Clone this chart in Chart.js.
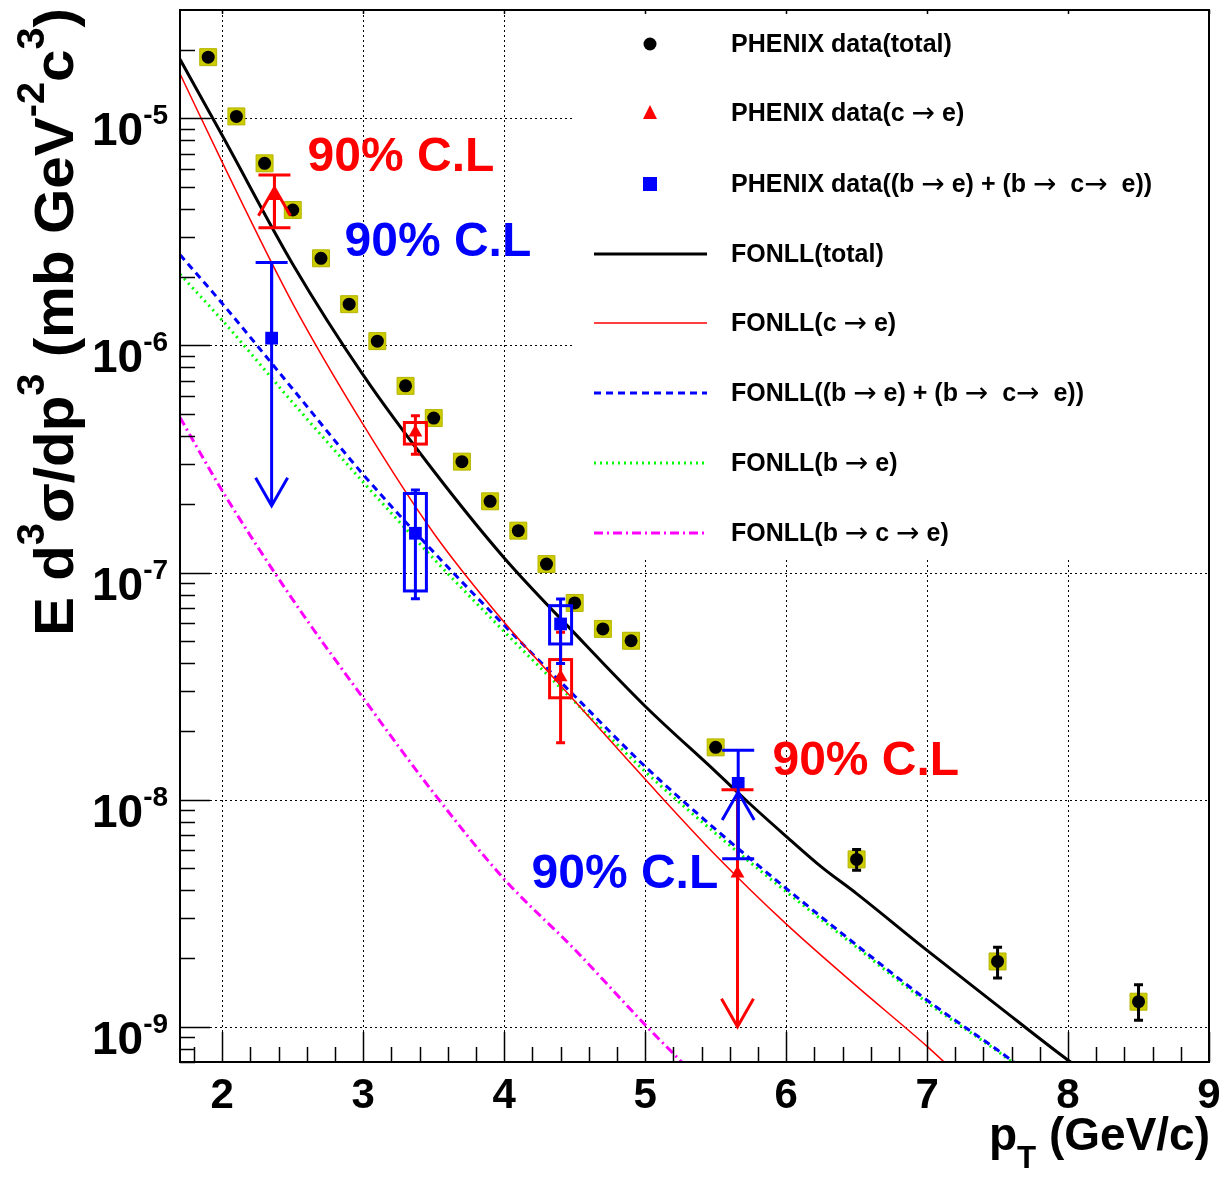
<!DOCTYPE html>
<html>
<head>
<meta charset="utf-8">
<title>Heavy-flavour electron spectrum vs FONLL</title>
<script src="https://cdn.jsdelivr.net/npm/chart.js@4.4.1/dist/chart.umd.min.js"></script>
<style>
  html, body { margin: 0; padding: 0; background: #fff; }
  #wrap { width: 1230px; height: 1177px; position: relative; }
</style>
</head>
<body>
<div id="wrap"><canvas id="spectrum"></canvas></div>
<script>
// PHENIX data (total), stat errors only where visible outside the marker
const totalPt  = [1.9, 2.1, 2.3, 2.5, 2.7, 2.9, 3.1, 3.3, 3.5, 3.7, 3.9, 4.1, 4.3, 4.5, 4.7, 4.9, 5.5, 6.5, 7.5, 8.5];
const totalVal = [1.86e-5, 1.02e-5, 6.34e-6, 3.95e-6, 2.42e-6, 1.52e-6, 1.045e-6, 6.64e-7, 4.79e-7, 3.08e-7,
                  2.06e-7, 1.53e-7, 1.09e-7, 7.35e-8, 5.65e-8, 5.01e-8, 1.70e-8, 5.46e-9, 1.94e-9, 1.29e-9];
const totalErrHi = [null, null, null, null, null, null, null, null, null, null, null, null, null, null, null, null, null, 6.04e-9, 2.24e-9, 1.53e-9];
const totalErrLo = [null, null, null, null, null, null, null, null, null, null, null, null, null, null, null, null, null, 4.89e-9, 1.64e-9, 1.07e-9];

// PHENIX data (c -> e)
const charmPt    = [2.37, 3.37, 4.40, 5.655];
const charmVal   = [4.55e-6, 4.14e-7, 3.46e-8, 4.73e-9];
const charmErrHi = [5.63e-6, 4.9e-7, 5.46e-8, 1.106e-8];
const charmErrLo = [3.3e-6, 3.32e-7, 1.78e-8, null];
const charmSysHi = [null, 4.58e-7, 4.14e-8, null];
const charmSysLo = [null, 3.68e-7, 2.81e-8, null];
const charmArrowFrom = [3.3e-6, null, null, 1.106e-8];
const charmArrowTo   = [4.95e-6, null, null, 1.0e-9];

// PHENIX data ((b -> e) + (b -> c -> e))
const bottomPt    = [2.35, 3.37, 4.40, 5.66];
const bottomVal   = [1.077e-6, 1.49e-7, 5.94e-8, 1.18e-8];
const bottomErrHi = [2.32e-6, 2.31e-7, 7.65e-8, 1.65e-8];
const bottomErrLo = [null, 7.68e-8, 3.98e-8, 5.5e-9];
const bottomSysHi = [null, 2.23e-7, 7.15e-8, null];
const bottomSysLo = [null, 8.3e-8, 4.85e-8, null];
const bottomArrowFrom = [2.32e-6, null, null, 5.5e-9];
const bottomArrowTo   = [1.97e-7, null, null, 1.08e-8];

// FONLL curves
const fonllTotalPt  = [1.7, 2.0, 2.5, 3.0, 3.5, 4.0, 4.5, 5.0, 5.5, 5.75, 6.0, 6.25, 6.5, 7.0, 7.5, 8.0, 8.1];
const fonllTotalVal = [1.82e-5, 8.4e-6, 2.28e-6, 7.4e-7, 2.8e-7, 1.16e-7, 5.4e-8, 2.58e-8, 1.33e-8, 9.5e-9,
                       6.9e-9, 5.06e-9, 3.86e-9, 2.17e-9, 1.24e-9, 7.13e-10, 6.45e-10];
const fonllCharmPt  = [1.7, 2.0, 2.5, 3.0, 3.5, 4.0, 4.5, 5.0, 5.5, 6.0, 6.5, 7.0, 7.2];
const fonllCharmVal = [1.57e-5, 6.4e-6, 1.53e-6, 4.48e-7, 1.49e-7, 6.04e-8, 2.72e-8, 1.23e-8, 5.7e-9, 2.84e-9, 1.51e-9, 8.2e-10, 6.3e-10];
const fonllBSumPt   = [1.7, 2.0, 2.5, 3.0, 3.5, 4.0, 4.5, 5.0, 5.5, 6.0, 6.5, 7.0, 7.5, 7.7];
const fonllBSumVal  = [2.51e-6, 1.53e-6, 6.43e-7, 2.7e-7, 1.23e-7, 5.86e-8, 2.86e-8, 1.4e-8, 7.4e-9, 4.07e-9, 2.29e-9, 1.31e-9, 7.9e-10, 6.4e-10];
const fonllBPt      = [1.7, 2.0, 2.5, 3.0, 3.5, 4.0, 4.5, 5.0, 5.5, 6.0, 6.5, 7.0, 7.5, 7.7];
const fonllBVal     = [2.06e-6, 1.29e-6, 5.6e-7, 2.5e-7, 1.15e-7, 5.5e-8, 2.7e-8, 1.33e-8, 7.1e-9, 3.94e-9, 2.24e-9, 1.28e-9, 7.8e-10, 6.3e-10];
const fonllBCPt     = [1.7, 2.0, 2.5, 3.0, 3.5, 4.0, 4.5, 5.0, 5.3];
const fonllBCVal    = [4.82e-7, 2.29e-7, 7.6e-8, 2.8e-8, 1.07e-8, 4.47e-9, 2.19e-9, 1.02e-9, 6.6e-10];

// axes
const xMin = 1.7, xMax = 9.0;
const yMin = 7e-10, yMax = 3e-5;
const xMajorTicks = [2, 3, 4, 5, 6, 7, 8, 9];
const yDecades = [-9, -8, -7, -6, -5];

// "90% C.L" labels: [pt, value at baseline, colour]
const clLabelPt  = [2.605, 2.867, 5.903, 4.194];
const clLabelVal = [5.87e-6, 2.48e-6, 1.28e-8, 4.07e-9];
const clLabelCol = ['#ff0000', '#0000ff', '#ff0000', '#0000ff'];

const legendLabels = [
    'PHENIX data(total)',
    'PHENIX data(c \u2192 e)',
    'PHENIX data((b \u2192 e) + (b \u2192  c\u2192  e))',
    'FONLL(total)',
    'FONLL(c \u2192 e)',
    'FONLL((b \u2192 e) + (b \u2192  c\u2192  e))',
    'FONLL(b \u2192 e)',
    'FONLL(b \u2192 c \u2192 e)',
];

const FONT = '"Liberation Sans", Arial, Helvetica, sans-serif';
const RED = '#ff0000', BLUE = '#0000ff', GREEN = '#00ff00', MAGENTA = '#ff00ff', OLIVE = '#cccc00';

const zip = (xs, ys) => xs.map((x, i) => ({ x, y: ys[i] }));

function richText(ctx, parts, x, y, size, draw) {
    let cx = x;
    parts.forEach(([t, mode]) => {
        const s = mode ? size * 0.68 : size;
        ctx.font = `bold ${s}px ${FONT}`;
        const dy = mode === 1 ? -size * 0.52 : (mode === -1 ? size * 0.4 : 0);
        if (draw) ctx.fillText(t, cx, y + dy);
        cx += ctx.measureText(t).width;
    });
    return cx - x;
}

// legend text: arrows come from a symbol-like font, thin and centred
function legendText(ctx, str, x, y) {
    let cx = x;
    str.split('\u2192').forEach((piece, i) => {
        if (i > 0) {
            ctx.font = `28px "DejaVu Sans", sans-serif`;
            ctx.fillText('\u2192', cx, y + 1);
            cx += ctx.measureText('\u2192').width;
        }
        ctx.font = `bold 25px ${FONT}`;
        ctx.fillText(piece, cx, y);
        cx += ctx.measureText(piece).width;
    });
}

function drawArrow(ctx, X, y0, y1) {
    const dir = y1 > y0 ? 1 : -1;
    ctx.beginPath();
    ctx.moveTo(X, y0); ctx.lineTo(X, y1);
    ctx.moveTo(X - 16, y1 - dir * 28); ctx.lineTo(X, y1); ctx.lineTo(X + 16, y1 - dir * 28);
    ctx.stroke();
}

const physicsPlugin = {
    id: 'physics',
    beforeDatasetsDraw(chart) {
        const { ctx, chartArea: a, scales: { x, y } } = chart;
        ctx.save();
        ctx.strokeStyle = '#000';
        ctx.lineWidth = 1;
        ctx.setLineDash([2, 3]);
        ctx.beginPath();
        xMajorTicks.forEach(v => {
            const X = Math.round(x.getPixelForValue(v)) + 0.5;
            ctx.moveTo(X, a.top); ctx.lineTo(X, a.bottom);
        });
        yDecades.forEach(d => {
            const Y = Math.round(y.getPixelForValue(Math.pow(10, d))) + 0.5;
            ctx.moveTo(a.left, Y); ctx.lineTo(a.right, Y);
        });
        ctx.stroke();
        ctx.setLineDash([]);
        // legend pad
        ctx.fillStyle = '#fff';
        ctx.fillRect(574, a.top + 1, a.right - 575, 558 - a.top);
        ctx.restore();
    },
    afterDatasetsDraw(chart) {
        const { ctx, chartArea: a, scales: { x, y } } = chart;
        ctx.save();
        ctx.beginPath();
        ctx.rect(a.left, a.top, a.right - a.left, a.bottom - a.top);
        ctx.clip();
        ctx.lineCap = 'butt';

        const series = [
            { pt: totalPt, v: totalVal, hi: totalErrHi, lo: totalErrLo, col: '#000' },
            { pt: charmPt, v: charmVal, hi: charmErrHi, lo: charmErrLo, col: RED,
              sHi: charmSysHi, sLo: charmSysLo, aFrom: charmArrowFrom, aTo: charmArrowTo },
            { pt: bottomPt, v: bottomVal, hi: bottomErrHi, lo: bottomErrLo, col: BLUE,
              sHi: bottomSysHi, sLo: bottomSysLo, aFrom: bottomArrowFrom, aTo: bottomArrowTo },
        ];
        series.forEach(s => {
            ctx.strokeStyle = s.col;
            ctx.lineWidth = 3;
            s.pt.forEach((p, i) => {
                const X = x.getPixelForValue(p);
                const Yv = y.getPixelForValue(s.v[i]);
                const wide = s.aTo && s.aTo[i] != null;
                const cap = wide ? 16 : 4.5;
                if (s.hi[i] != null || s.lo[i] != null) {
                    const Yh = s.hi[i] != null ? y.getPixelForValue(s.hi[i]) : Yv;
                    const Yl = s.lo[i] != null ? y.getPixelForValue(s.lo[i]) : Yv;
                    ctx.beginPath();
                    ctx.moveTo(X, Yh); ctx.lineTo(X, Yl);
                    if (s.hi[i] != null) { ctx.moveTo(X - cap, Yh); ctx.lineTo(X + cap, Yh); }
                    if (s.lo[i] != null) { ctx.moveTo(X - cap, Yl); ctx.lineTo(X + cap, Yl); }
                    ctx.stroke();
                }
                if (s.sHi && s.sHi[i] != null) {
                    const Yh = y.getPixelForValue(s.sHi[i]);
                    const Yl = y.getPixelForValue(s.sLo[i]);
                    ctx.strokeRect(X - 11, Yh, 22, Yl - Yh);
                }
                if (wide) {
                    drawArrow(ctx, X, y.getPixelForValue(s.aFrom[i]), y.getPixelForValue(s.aTo[i]));
                }
            });
        });
        ctx.restore();

        // frame and ticks
        ctx.save();
        ctx.strokeStyle = '#000';
        ctx.lineWidth = 2;
        ctx.strokeRect(a.left, a.top, a.right - a.left, a.bottom - a.top);
        ctx.lineWidth = 1.5;
        ctx.beginPath();
        for (let k = 0; k <= 36; k++) {
            const v = 1.8 + k * 0.2;
            if (v > xMax + 1e-6) break;
            const X = Math.round(x.getPixelForValue(v)) + 0.5;
            const major = Math.abs(v - Math.round(v)) < 1e-6;
            ctx.moveTo(X, a.bottom); ctx.lineTo(X, a.bottom - (major ? 30 : 15));
            if (major) { ctx.moveTo(X, a.top); ctx.lineTo(X, a.top + 4); }
        }
        for (let d = -10; d <= -5; d++) {
            for (let m = 1; m <= 9; m++) {
                const v = m * Math.pow(10, d);
                if (v < yMin || v > yMax) continue;
                const Y = Math.round(y.getPixelForValue(v)) + 0.5;
                ctx.moveTo(a.left, Y); ctx.lineTo(a.left + (m === 1 ? 30 : 15), Y);
            }
        }
        ctx.stroke();
        ctx.restore();
    },
    afterDraw(chart) {
        const { ctx, scales: { x, y } } = chart;
        ctx.save();
        ctx.fillStyle = '#000';
        // x tick labels
        ctx.font = `bold 42px ${FONT}`;
        ctx.textAlign = 'center';
        ctx.textBaseline = 'alphabetic';
        xMajorTicks.forEach(v => ctx.fillText(String(v), x.getPixelForValue(v), 1108));
        // y tick labels
        ctx.textAlign = 'left';
        yDecades.forEach(d => {
            const Y = y.getPixelForValue(Math.pow(10, d));
            ctx.font = `bold 46px ${FONT}`;
            ctx.fillText('10', 92, Y + 27);
            const w = ctx.measureText('10').width;
            ctx.font = `bold 28px ${FONT}`;
            ctx.fillText(String(d), 92 + w, Y + 6);
        });
        // y title
        const yParts = [['E d', 0], ['3', 1], ['\u03c3/dp', 0], ['3', 1], [' (mb GeV', 0], ['-2', 1], ['c', 0], ['3', 1], [')', 0]];
        const yW = richText(ctx, yParts, 0, 0, 56, false);
        ctx.save();
        ctx.translate(73, 636);
        ctx.rotate(-Math.PI / 2);
        ctx.scale(628 / yW, 1);
        richText(ctx, yParts, 0, 0, 56, true);
        ctx.restore();
        // x title
        const xParts = [['p', 0], ['T', -1], [' (GeV/c)', 0]];
        const xW = richText(ctx, xParts, 0, 0, 46, false);
        richText(ctx, xParts, 1210 - xW, 1150, 46, true);

        // 90% C.L annotations
        ctx.font = `bold 48px ${FONT}`;
        clLabelPt.forEach((p, i) => {
            ctx.fillStyle = clLabelCol[i];
            ctx.fillText('90% C.L', x.getPixelForValue(p), y.getPixelForValue(clLabelVal[i]));
        });

        // legend
        const rows = [44, 113, 184, 254, 323, 393, 463, 533];
        ctx.fillStyle = '#000';
        ctx.textBaseline = 'middle';
        legendLabels.forEach((t, i) => legendText(ctx, t, 731, rows[i] + 1));
        // markers
        ctx.fillStyle = '#000';
        ctx.beginPath(); ctx.arc(650, rows[0], 6.5, 0, Math.PI * 2); ctx.fill();
        ctx.fillStyle = RED;
        ctx.beginPath(); ctx.moveTo(650, rows[1] - 8); ctx.lineTo(657, rows[1] + 6); ctx.lineTo(643, rows[1] + 6); ctx.closePath(); ctx.fill();
        ctx.fillStyle = BLUE;
        ctx.fillRect(643, rows[2] - 7, 14, 14);
        // line samples
        const samples = [
            [rows[3], '#000', 3, []],
            [rows[4], RED, 1.5, []],
            [rows[5], BLUE, 3, [7, 5]],
            [rows[6], GREEN, 3, [2, 4]],
            [rows[7], MAGENTA, 3, [9, 4, 2, 4]],
        ];
        samples.forEach(([Y, col, lw, dash]) => {
            ctx.strokeStyle = col; ctx.lineWidth = lw; ctx.setLineDash(dash);
            ctx.beginPath(); ctx.moveTo(594, Y); ctx.lineTo(707, Y); ctx.stroke();
        });
        ctx.restore();
    }
};

const curve = (label, pts, vals, color, width, dash, order) => ({
    label, data: zip(pts, vals), showLine: true, pointRadius: 0,
    borderColor: color, borderWidth: width, borderDash: dash,
    cubicInterpolationMode: 'monotone', fill: false, order,
});

new Chart(document.getElementById('spectrum'), {
    type: 'scatter',
    data: {
        datasets: [
            { label: 'PHENIX data(total)', data: zip(totalPt, totalVal), pointStyle: 'circle', pointRadius: 6.5,
              backgroundColor: '#000', borderWidth: 0, order: 1 },
            { label: 'PHENIX sys', data: zip(totalPt, totalVal), pointStyle: 'rect', pointRadius: 12,
              backgroundColor: OLIVE, borderColor: '#b5b500', borderWidth: 1, order: 9 },
            { label: 'PHENIX data(c \u2192 e)', data: zip(charmPt, charmVal), pointStyle: 'triangle', pointRadius: 8,
              backgroundColor: RED, borderWidth: 0, order: 2 },
            { label: 'PHENIX data(b)', data: zip(bottomPt, bottomVal), pointStyle: 'rect', pointRadius: 9,
              backgroundColor: BLUE, borderWidth: 0, order: 2 },
            curve('FONLL(total)', fonllTotalPt, fonllTotalVal, '#000', 3, [], 3),
            curve('FONLL(c \u2192 e)', fonllCharmPt, fonllCharmVal, RED, 1.5, [], 4),
            curve('FONLL(b sum)', fonllBSumPt, fonllBSumVal, BLUE, 3, [7, 5], 5),
            curve('FONLL(b \u2192 e)', fonllBPt, fonllBVal, GREEN, 3, [2, 4], 6),
            curve('FONLL(b \u2192 c \u2192 e)', fonllBCPt, fonllBCVal, MAGENTA, 3, [9, 4, 2, 4], 7),
        ]
    },
    options: {
        responsive: true,
        maintainAspectRatio: false,
        animation: false,
        devicePixelRatio: 1,
        layout: { autoPadding: false, padding: { left: 180, top: 10, right: 21, bottom: 115 } },
        plugins: { legend: { display: false }, tooltip: { enabled: false } },
        scales: {
            x: { type: 'linear', min: xMin, max: xMax, display: false },
            y: { type: 'logarithmic', min: yMin, max: yMax, display: false },
        },
    },
    plugins: [physicsPlugin],
});
</script>
</body>
</html>
